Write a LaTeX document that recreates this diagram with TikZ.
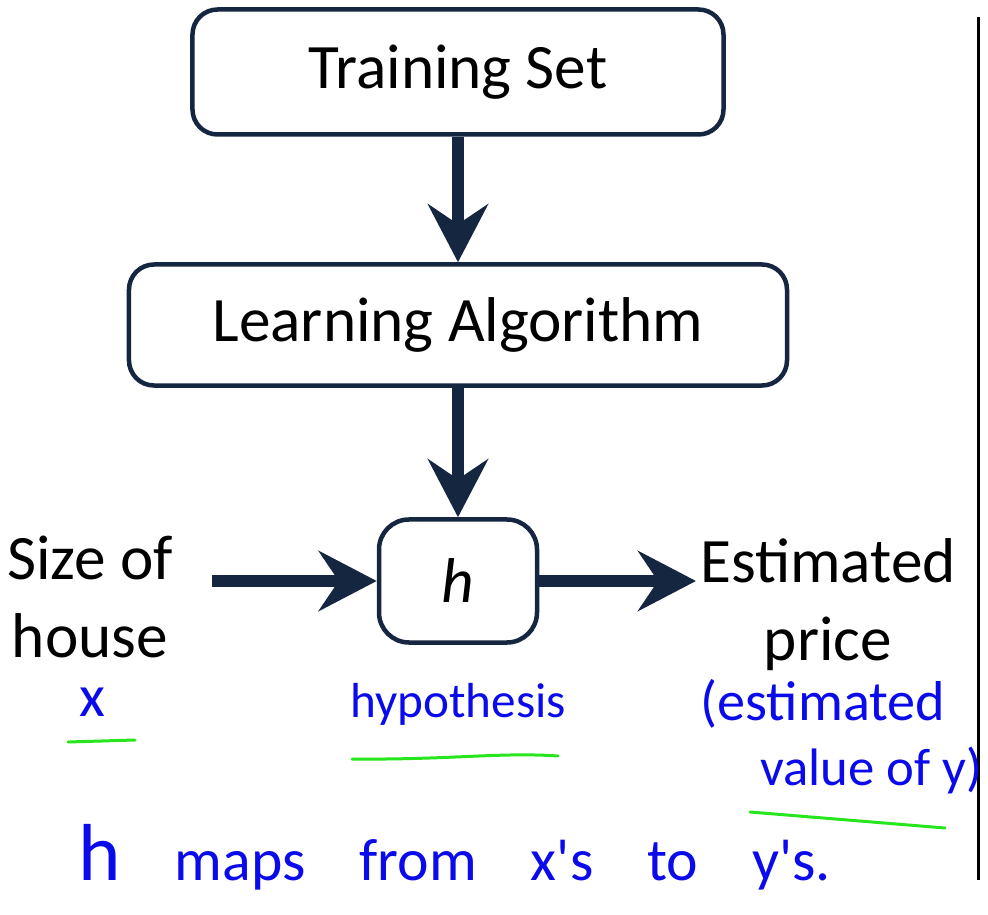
\documentclass[tikz,border=0pt]{standalone}
\usepackage{fontspec}
\setmainfont{Carlito}
\newfontfamily\handfont{Carlito}
\usetikzlibrary{arrows.meta,positioning}
\definecolor{boxnavy}{RGB}{20,38,64}
\definecolor{penblue}{RGB}{10,10,235}
\definecolor{pengreen}{RGB}{40,230,30}

\begin{document}
\begin{tikzpicture}[x=0.2mm, y=-0.2mm,
    every node/.append style={font=\fontsize{36}{44.4}\selectfont},
    block/.style={draw=boxnavy, line width=0.9mm, rounded corners=5mm, inner sep=0pt},
    flow/.style={draw=boxnavy, line width=2.4mm,
      -{Stealth[length=11.6mm, width=12mm, inset=4mm]}},
    pen/.style={text=penblue, inner sep=0pt,
      font=\handfont\fontsize{#1}{#1}\selectfont},
    underline/.style={draw=pengreen, line width=0.6mm, line cap=round}]
    \useasboundingbox (0,0) rectangle (988,915);
    \node (train) [block, minimum width=106.2mm, minimum height=25mm] at (458,72) {Training Set};
    \node (learn) [block, minimum width=131.6mm, minimum height=24.2mm] at (458,325) {Learning Algorithm};
    \node (hbox) [block, rounded corners=6mm, minimum width=31.6mm, minimum height=24.6mm] at (458,581) {\itshape h};
    \node (size) [align=center, inner sep=0pt] at (90,597) {Size of\\house};
    \node (price) [align=center, inner sep=0pt] at (828,605) {Estimated\\price};
    \coordinate (sizeend) at (212,581);
    \coordinate (priceend) at (696,581);
    \draw[flow] (train) -- (learn);
    \draw[flow] (learn) -- (hbox);
    \draw[flow] (sizeend) -- (hbox);
    \draw[flow] (hbox) -- (priceend);
    \draw[line width=0.6mm] (978,17) -- (978,880);
    \node (xlabel) [pen=34, anchor=base, text height=1ex] at (92,716) {x};
    \node (hyp) [pen=28, anchor=base west] at (350,717) {hypothesis};
    \node (est1) [pen=32, anchor=base west] at (700,720) {(estimated};
    \node (est2) [pen=30, anchor=base west] at (760,785) {value of y)};
    \node (maps) [pen=34, anchor=base west] at (78,880) {\spaceskip=10.8mm\relax{\fontsize{46}{46}\selectfont h} maps from x's to y's.};
    \draw[underline] (68,742) -- (135,740);
    \draw[underline] (352,759) .. controls (450,760) and (500,752) .. (558,756);
    \draw[underline] (750,812) -- (945,828);
\end{tikzpicture}
\end{document}
